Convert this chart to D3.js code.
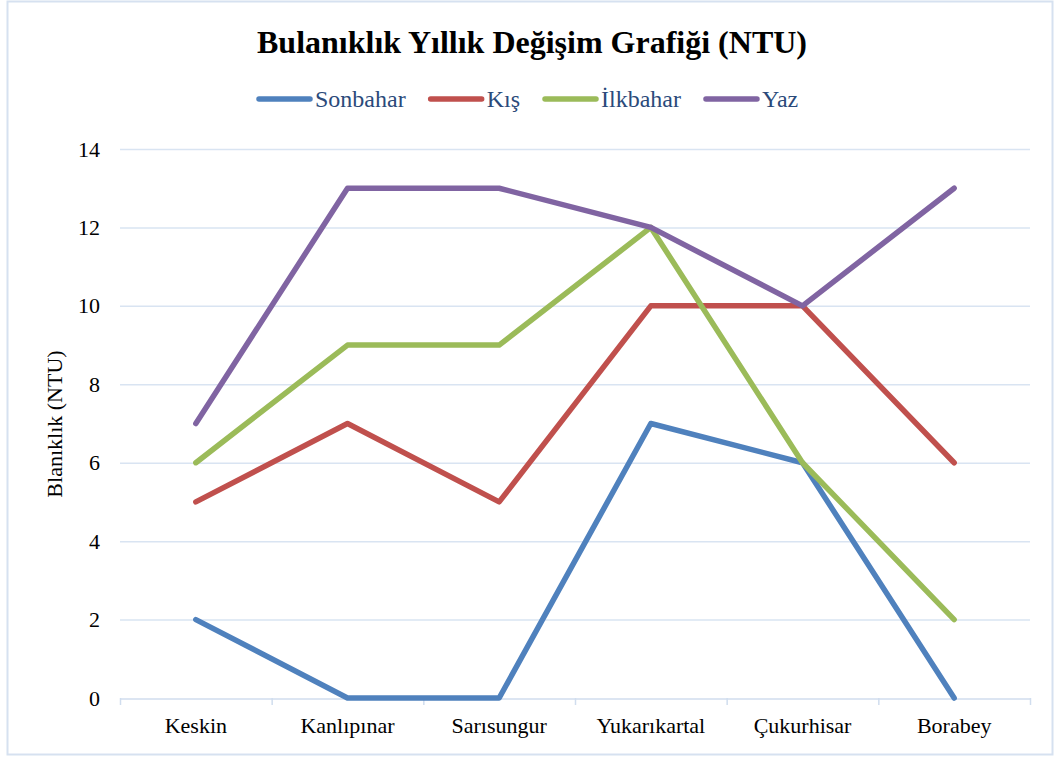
<!DOCTYPE html>
<html>
<head>
<meta charset="utf-8">
<title>Bulanıklık Yıllık Değişim Grafiği</title>
<script src="https://cdn.jsdelivr.net/npm/d3@7"></script>
<style>
  body { margin: 0; background: #fff; }
  svg text { font-family: "Liberation Serif", "Times New Roman", "DejaVu Serif", serif !important; }
</style>
</head>
<body>
<svg id="chart" width="1054" height="758"></svg>
<script>
// data
const categories = ["Keskin", "Kanlıpınar", "Sarısungur", "Yukarıkartal", "Çukurhisar", "Borabey"];
const seriesNames = ["Sonbahar", "Kış", "İlkbahar", "Yaz"];
const sonbahar = [2, 0, 0, 7, 6, 0];
const kis = [5, 7, 5, 10, 10, 6];
const ilkbahar = [6, 9, 9, 12, 6, 2];
const yaz = [7, 13, 13, 12, 10, 13];
const yTicks = [0, 2, 4, 6, 8, 10, 12, 14];
const colors = ["#4F81BD", "#C0504D", "#9BBB59", "#8064A2"];

const series = [sonbahar, kis, ilkbahar, yaz].map((v, i) => ({ name: seriesNames[i], values: v, color: colors[i] }));

const svg = d3.select("#chart");
const margin = { left: 120, right: 1030, top: 149, bottom: 698 };

// outer frame
svg.append("rect")
  .attr("x", 7.5).attr("y", 1.5).attr("width", 1045).attr("height", 753)
  .attr("fill", "none").attr("stroke", "#D6E1F0").attr("stroke-width", 2);

const x = d3.scaleBand().domain(categories).range([margin.left, margin.right]);
const y = d3.scaleLinear().domain([0, 14]).range([margin.bottom, margin.top]);

// gridlines
svg.append("g").selectAll("line").data(yTicks.filter(d => d > 0)).join("line")
  .attr("x1", margin.left).attr("x2", margin.right)
  .attr("y1", d => y(d) + 0.5).attr("y2", d => y(d) + 0.5)
  .attr("stroke", "#D9E4F2").attr("stroke-width", 1.5);

// x axis
const xAxis = svg.append("g")
  .attr("transform", `translate(0,${margin.bottom + 0.5})`)
  .call(d3.axisBottom(x).tickSize(0).tickPadding(19));
xAxis.select(".domain").attr("stroke", "#D0DDEE").attr("stroke-width", 1.5);
xAxis.selectAll("text").attr("font-size", 22).attr("fill", "#000");
// category boundary ticks
svg.append("g").selectAll("line")
  .data(categories.map(c => x(c)).concat([margin.right]))
  .join("line")
  .attr("x1", d => d + 0.5).attr("x2", d => d + 0.5)
  .attr("y1", margin.bottom).attr("y2", margin.bottom + 7)
  .attr("stroke", "#D0DDEE").attr("stroke-width", 1.5);

// y axis labels
const yAxis = svg.append("g")
  .attr("transform", `translate(${margin.left},0)`)
  .call(d3.axisLeft(y).tickValues(yTicks).tickSize(0).tickPadding(20));
yAxis.select(".domain").remove();
yAxis.selectAll("text").attr("font-size", 22).attr("fill", "#000");

// y axis title
svg.append("text")
  .attr("transform", `translate(62,424) rotate(-90)`)
  .attr("text-anchor", "middle")
  .attr("font-size", 22)
  .text("Blanıklık (NTU)");

// lines
const line = d3.line()
  .x((d, i) => x(categories[i]) + x.bandwidth() / 2)
  .y(d => y(d));

svg.append("g").selectAll("path").data(series).join("path")
  .attr("d", d => line(d.values))
  .attr("fill", "none")
  .attr("stroke", d => d.color)
  .attr("stroke-width", 5.5)
  .attr("stroke-linejoin", "round")
  .attr("stroke-linecap", "round");

// title
svg.append("text")
  .attr("x", 532).attr("y", 53)
  .attr("text-anchor", "middle")
  .attr("font-size", 32).attr("font-weight", "bold")
  .text("Bulanıklık Yıllık Değişim Grafiği (NTU)");

// legend
const legend = svg.append("g");
let lx = 259;
series.forEach(s => {
  const g = legend.append("g").attr("transform", `translate(${lx},99)`);
  g.append("line").attr("x1", 0).attr("x2", 51).attr("y1", 0).attr("y2", 0)
    .attr("stroke", s.color).attr("stroke-width", 5.5).attr("stroke-linecap", "round");
  const t = g.append("text").attr("x", 56).attr("y", 8)
    .attr("font-size", 24).attr("fill", "#2B4A7A").text(s.name);
  lx += 56 + t.node().getComputedTextLength() + 25;
});
</script>
</body>
</html>
